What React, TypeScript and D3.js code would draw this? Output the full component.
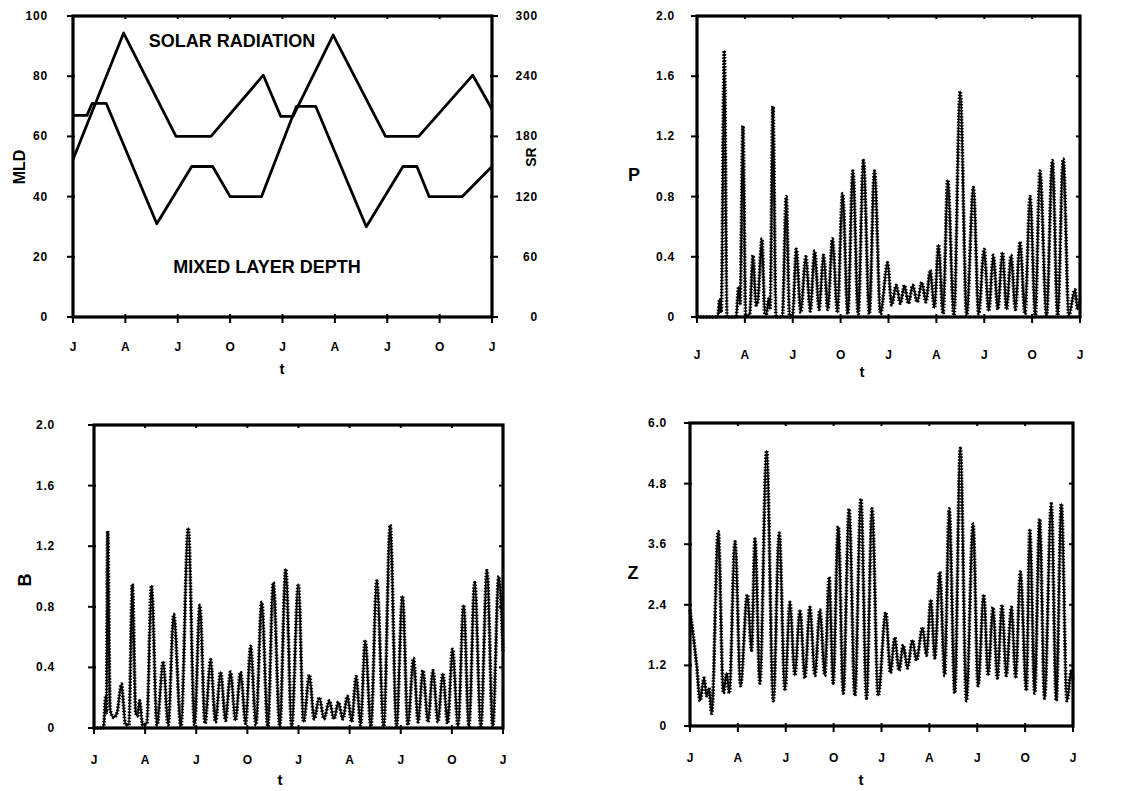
import { curveLinear, curveMonotoneX, line, scaleLinear } from 'd3';

// months since January of year one
const quarterTicks = [0, 3, 6, 9, 12, 15, 18, 21, 24];
const quarterLabels = ['J', 'A', 'J', 'O', 'J', 'A', 'J', 'O', 'J'];

const mldTicks = [0, 20, 40, 60, 80, 100];
const srTicks = [0, 60, 120, 180, 240, 300];
const pbTicks = [0, 0.4, 0.8, 1.2, 1.6, 2.0];
const zTicks = [0, 1.2, 2.4, 3.6, 4.8, 6.0];

type Pt = [number, number];

const mixedLayerDepth: Pt[] = [
  [0, 67], [0.8, 67], [1.1, 71], [1.9, 71], [4.8, 31], [6.8, 50], [8.0, 50], [9.0, 40],
  [10.8, 40], [12.8, 70], [13.9, 70], [16.8, 30], [18.9, 50], [19.7, 50], [20.4, 40],
  [22.3, 40], [24, 50],
];

const solarRadiation: Pt[] = [
  [0, 157], [2.9, 283], [5.9, 180], [7.9, 180], [10.9, 241], [11.9, 200], [12.6, 200],
  [14.9, 281], [17.9, 180], [19.8, 180], [22.9, 241], [24, 207],
];

const phyto: Pt[] = [
  [0, 0], [1.3, 0], [1.42, 0.12], [1.52, 0.03], [1.71, 1.77], [1.88, 0], [2.45, 0], [2.61, 0.2],
  [2.7, 0.08], [2.88, 1.27], [3.05, 0], [3.3, 0.02], [3.51, 0.41], [3.7, 0.08], [3.8, 0.1],
  [4.07, 0.52], [4.25, 0.02], [4.35, 0.02], [4.49, 0.12], [4.58, 0.05], [4.76, 1.4], [4.95, 0],
  [5.35, 0], [5.59, 0.8], [5.8, 0], [6.0, 0.02], [6.22, 0.45], [6.5, 0.03], [6.82, 0.4],
  [7.1, 0.04], [7.37, 0.44], [7.65, 0.05], [7.93, 0.41], [8.2, 0.05], [8.49, 0.52], [8.8, 0.03],
  [9.12, 0.82], [9.45, 0.02], [9.77, 0.97], [10.1, 0.02], [10.43, 1.04], [10.8, 0.02],
  [11.12, 0.97], [11.5, 0.02], [11.94, 0.36], [12.2, 0.08], [12.48, 0.21], [12.75, 0.09],
  [13.0, 0.21], [13.25, 0.09], [13.52, 0.21], [13.8, 0.1], [14.09, 0.23], [14.35, 0.1],
  [14.61, 0.31], [14.88, 0.06], [15.13, 0.48], [15.42, 0.02], [15.71, 0.91], [16.1, 0.01],
  [16.49, 1.5], [16.9, 0.01], [17.32, 0.86], [17.65, 0.02], [17.99, 0.45], [18.28, 0.04],
  [18.57, 0.41], [18.85, 0.05], [19.14, 0.43], [19.4, 0.05], [19.68, 0.41], [19.95, 0.05],
  [20.24, 0.5], [20.55, 0.02], [20.87, 0.8], [21.2, 0.01], [21.49, 0.97], [21.9, 0.01],
  [22.27, 1.04], [22.6, 0.01], [22.95, 1.05], [23.3, 0.01], [23.68, 0.18], [23.85, 0.05], [24, 0.12],
];

const bacteria: Pt[] = [
  [0, 0], [0.55, 0], [0.69, 0.21], [0.73, 0.1], [0.8, 1.3], [0.95, 0.12], [1.15, 0.07], [1.35, 0.1],
  [1.61, 0.29], [1.85, 0.02], [2.05, 0.02], [2.25, 0.95], [2.45, 0.1], [2.55, 0.08], [2.68, 0.18],
  [2.85, 0.02], [3.1, 0.03], [3.37, 0.94], [3.7, 0.02], [4.06, 0.44], [4.35, 0.02], [4.68, 0.75],
  [5.1, 0.01], [5.53, 1.32], [5.9, 0.02], [6.21, 0.81], [6.52, 0.03], [6.84, 0.45], [7.13, 0.04],
  [7.43, 0.37], [7.72, 0.05], [8.01, 0.37], [8.3, 0.05], [8.6, 0.37], [8.9, 0.03], [9.19, 0.54],
  [9.5, 0.02], [9.84, 0.83], [10.2, 0.01], [10.52, 0.96], [10.9, 0.01], [11.25, 1.05], [11.6, 0.01],
  [11.99, 0.95], [12.3, 0.04], [12.64, 0.35], [12.92, 0.06], [13.22, 0.2], [13.5, 0.06],
  [13.81, 0.18], [14.08, 0.06], [14.34, 0.17], [14.6, 0.06], [14.87, 0.21], [15.12, 0.04],
  [15.38, 0.34], [15.65, 0.02], [15.91, 0.58], [16.25, 0.01], [16.59, 0.97], [17.0, 0.01],
  [17.38, 1.34], [17.75, 0.01], [18.1, 0.87], [18.42, 0.02], [18.75, 0.46], [19.02, 0.04],
  [19.3, 0.38], [19.6, 0.04], [19.89, 0.38], [20.18, 0.04], [20.47, 0.36], [20.75, 0.03],
  [21.04, 0.52], [21.36, 0.01], [21.69, 0.81], [22.0, 0.01], [22.34, 0.96], [22.7, 0.01],
  [23.06, 1.04], [23.4, 0.01], [23.75, 1.0], [24, 0.5],
];

const zoo: Pt[] = [
  [0, 2.3], [0.2, 1.8], [0.42, 1.2], [0.63, 0.5], [0.88, 0.95], [1.04, 0.6], [1.19, 0.75],
  [1.36, 0.25], [1.77, 3.85], [2.09, 0.65], [2.3, 1.05], [2.46, 0.65], [2.82, 3.65], [3.17, 0.8],
  [3.59, 2.6], [3.86, 1.5], [4.07, 3.7], [4.38, 0.85], [4.8, 5.45], [5.22, 0.5], [5.59, 3.82],
  [5.95, 0.7], [6.26, 2.45], [6.57, 1.0], [6.89, 2.3], [7.2, 0.95], [7.51, 2.35], [7.83, 1.0],
  [8.14, 2.3], [8.45, 1.0], [8.72, 2.95], [8.97, 0.85], [9.29, 3.95], [9.6, 0.65], [9.97, 4.3],
  [10.33, 0.6], [10.71, 4.5], [11.06, 0.55], [11.41, 4.3], [11.79, 0.6], [12.27, 2.25],
  [12.56, 1.05], [12.83, 1.75], [13.1, 1.1], [13.36, 1.6], [13.63, 1.15], [13.94, 1.7],
  [14.19, 1.3], [14.57, 1.95], [14.82, 1.4], [15.09, 2.5], [15.34, 1.35], [15.65, 3.05],
  [15.96, 1.0], [16.24, 4.3], [16.59, 0.65], [16.94, 5.5], [17.32, 0.5], [17.74, 4.0],
  [18.05, 0.8], [18.41, 2.6], [18.68, 1.0], [18.99, 2.35], [19.26, 0.95], [19.55, 2.4],
  [19.82, 1.0], [20.14, 2.35], [20.41, 0.95], [20.7, 3.05], [21.08, 0.7], [21.29, 3.9],
  [21.6, 0.65], [21.91, 4.1], [22.22, 0.55], [22.64, 4.4], [22.95, 0.5], [23.27, 4.4],
  [23.62, 0.5], [23.9, 1.1], [24, 0.9],
];

const font = '"Liberation Sans", Arial, sans-serif';

type Box = { left: number; right: number; top: number; bottom: number };
type Scale = (v: number) => number;

const fmtDecimal = (v: number) => (v === 0 ? '0' : v.toFixed(1));

function Frame({
  box, x, y, ticks, fmt, labelEdge, xLabelY, tPos, innerRightTicks = true,
}: {
  box: Box; x: Scale; y: Scale; ticks: number[]; fmt: (v: number) => string;
  labelEdge: number; xLabelY: number; tPos: [number, number]; innerRightTicks?: boolean;
}) {
  return (
    <g fontFamily={font} fontWeight="bold">
      <rect x={box.left} y={box.top} width={box.right - box.left} height={box.bottom - box.top}
        fill="none" stroke="#000" strokeWidth={3.2} />
      {ticks.map(v => (
        <g key={v}>
          <line x1={box.left - 6} x2={box.left + 2} y1={y(v)} y2={y(v)} stroke="#000" strokeWidth={2} />
          {innerRightTicks && (
            <line x1={box.right - 4} x2={box.right} y1={y(v)} y2={y(v)} stroke="#000" strokeWidth={2} />
          )}
          <text x={labelEdge} y={y(v)} textAnchor="end" dominantBaseline="central" fontSize={12}
            letterSpacing={0.8}>{fmt(v)}</text>
        </g>
      ))}
      {quarterTicks.map((m, i) => (
        <g key={m}>
          <line x1={x(m)} x2={x(m)} y1={box.bottom - 3} y2={box.bottom + 6} stroke="#000" strokeWidth={2} />
          <line x1={x(m)} x2={x(m)} y1={box.top} y2={box.top + 3} stroke="#000" strokeWidth={2} />
          <text x={x(m)} y={xLabelY} textAnchor="middle" dominantBaseline="central" fontSize={12}>
            {quarterLabels[i]}
          </text>
        </g>
      ))}
      <text x={tPos[0]} y={tPos[1]} textAnchor="middle" dominantBaseline="central" fontSize={15}>t</text>
    </g>
  );
}

function Spiky({ data, x, y }: { data: Pt[]; x: Scale; y: Scale }) {
  const d = line<Pt>().x(p => x(p[0])).y(p => y(p[1])).curve(curveMonotoneX)(data) ?? '';
  return (
    <g>
      <path d={d} fill="none" stroke="#000" strokeWidth={1.8} />
      <path d={d} fill="none" stroke="#000" strokeWidth={3.6} strokeDasharray="1.4 1.6" />
    </g>
  );
}

export default function App() {
  const b1: Box = { left: 73, right: 492, top: 16, bottom: 317 };
  const b2: Box = { left: 697, right: 1080, top: 16, bottom: 317 };
  const b3: Box = { left: 94, right: 503, top: 425, bottom: 728 };
  const b4: Box = { left: 690, right: 1073, top: 423, bottom: 726 };

  const x1 = scaleLinear().domain([0, 24]).range([b1.left, b1.right]);
  const yMld = scaleLinear().domain([0, 100]).range([b1.bottom, b1.top]);
  const ySr = scaleLinear().domain([0, 300]).range([b1.bottom, b1.top]);

  const x2 = scaleLinear().domain([0, 24]).range([b2.left, b2.right]);
  const y2 = scaleLinear().domain([0, 2]).range([b2.bottom, b2.top]);
  const x3 = scaleLinear().domain([0, 24]).range([b3.left, b3.right]);
  const y3 = scaleLinear().domain([0, 2]).range([b3.bottom, b3.top]);
  const x4 = scaleLinear().domain([0, 24]).range([b4.left, b4.right]);
  const y4 = scaleLinear().domain([0, 6]).range([b4.bottom, b4.top]);

  const mldPath = line<Pt>().x(p => x1(p[0])).y(p => yMld(p[1])).curve(curveLinear)(mixedLayerDepth) ?? '';
  const srPath = line<Pt>().x(p => x1(p[0])).y(p => ySr(p[1])).curve(curveLinear)(solarRadiation) ?? '';

  return (
    <svg width={1132} height={791} viewBox="0 0 1132 791"
      style={{ position: 'absolute', left: 0, top: 0, background: '#fff' }}>
      <rect width={1132} height={791} fill="#fff" />

      {/* top left: forcing */}
      <Frame box={b1} x={x1} y={yMld} ticks={mldTicks} fmt={v => String(v)} labelEdge={48}
        xLabelY={347} tPos={[282, 368]} innerRightTicks={false} />
      <g fontFamily={font} fontWeight="bold">
        {srTicks.map(v => (
          <g key={v}>
            <line x1={b1.right - 2} x2={b1.right + 6} y1={ySr(v)} y2={ySr(v)} stroke="#000" strokeWidth={2} />
            <text x={538} y={ySr(v)} textAnchor="end" dominantBaseline="central" fontSize={12}
              letterSpacing={0.8}>{v}</text>
          </g>
        ))}
        <text transform="translate(19,167) rotate(-90)" textAnchor="middle" dominantBaseline="central"
          fontSize={16}>MLD</text>
        <text transform="translate(531,157) rotate(-90)" textAnchor="middle" dominantBaseline="central"
          fontSize={14}>SR</text>
        <text x={232} y={41} textAnchor="middle" dominantBaseline="central" fontSize={18}>SOLAR RADIATION</text>
        <text x={267} y={267} textAnchor="middle" dominantBaseline="central" fontSize={18}>MIXED LAYER DEPTH</text>
      </g>
      <path d={srPath} fill="none" stroke="#000" strokeWidth={2.8} strokeLinejoin="round" />
      <path d={mldPath} fill="none" stroke="#000" strokeWidth={2.8} strokeLinejoin="round" />

      {/* top right: P */}
      <Frame box={b2} x={x2} y={y2} ticks={pbTicks} fmt={fmtDecimal} labelEdge={675}
        xLabelY={355} tPos={[862, 371]} />
      <text x={634} y={175} textAnchor="middle" dominantBaseline="central" fontFamily={font}
        fontWeight="bold" fontSize={18}>P</text>
      <Spiky data={phyto} x={x2} y={y2} />

      {/* bottom left: B */}
      <Frame box={b3} x={x3} y={y3} ticks={pbTicks} fmt={fmtDecimal} labelEdge={55}
        xLabelY={760} tPos={[280, 779]} />
      <text transform="translate(25,580) rotate(-90)" textAnchor="middle" dominantBaseline="central"
        fontFamily={font} fontWeight="bold" fontSize={18}>B</text>
      <Spiky data={bacteria} x={x3} y={y3} />

      {/* bottom right: Z */}
      <Frame box={b4} x={x4} y={y4} ticks={zTicks} fmt={fmtDecimal} labelEdge={667}
        xLabelY={758} tPos={[861, 779]} />
      <text x={633} y={573} textAnchor="middle" dominantBaseline="central" fontFamily={font}
        fontWeight="bold" fontSize={18}>Z</text>
      <Spiky data={zoo} x={x4} y={y4} />
    </svg>
  );
}
